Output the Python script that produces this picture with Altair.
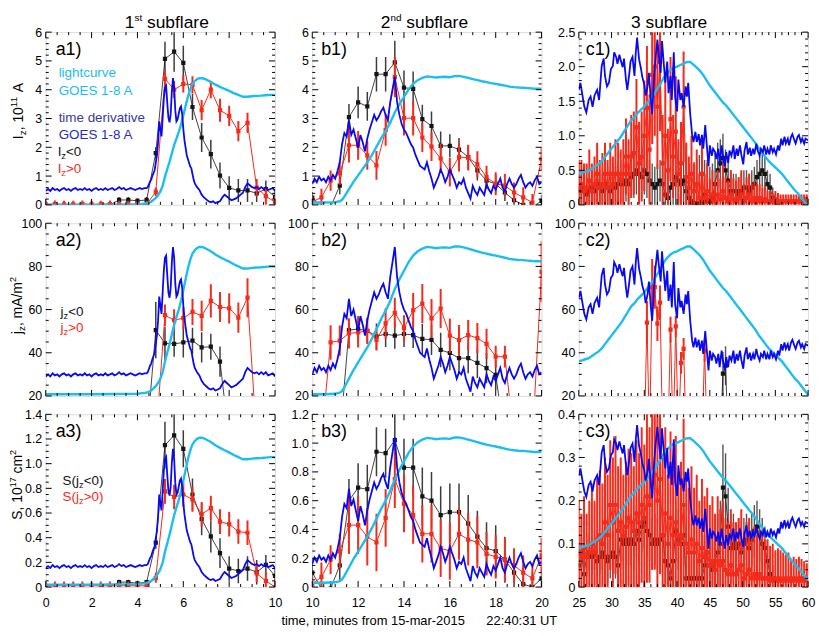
import altair as alt
import pandas as pd

FONT = "Liberation Sans"
CYAN = "#1CBDEF"
BLUE = "#0A0AEE"
RED = "#F42A1A"
BLACK = "#141414"
EBLACK = "#3C3C3C"
NAVY1 = "#3A3A9E"
NAVY2 = "#2A2AC0"
PW, PH = 231, 174
NB = "\u00a0"


def seq(start, step, n):
    return [round(start + i * step, 3) for i in range(n)]


# ---------------- time grids of the measured points ----------------
TA = seq(0.0, 0.4, 26)
TB = seq(10.0, 0.4, 26)
TC = seq(25.0, 0.4, 88)

# ---------------- GOES 1-8 A lightcurve (in j_z-panel units) ----------------
CYAN_A_T = [0, 1, 2, 3, 4, 4.4, 4.6, 4.7, 4.8, 4.9, 5.0, 5.1, 5.2, 5.3, 5.4, 5.5, 5.6, 5.7, 5.8, 5.9,
            6.0, 6.1, 6.2, 6.3, 6.4, 6.5, 6.6, 6.7, 6.8, 6.9, 7.0, 7.2, 7.4, 7.6, 7.8, 8.0, 8.2, 8.4,
            8.6, 8.8, 9.0, 9.2, 9.4, 9.6, 9.8, 10.0]
CYAN_A_V = [20.8, 20.8, 20.8, 20.9, 21.0, 21.5, 22.5, 23.5, 24.5, 26, 28, 31, 36, 40, 44, 48.5, 53,
            56.5, 60, 64, 69, 74, 79, 83, 86, 87.5, 88.5, 89, 89, 88.7, 88.2, 87, 85.5, 84.3, 83.2,
            82.2, 81, 80, 79, 79, 79.3, 79.5, 79.6, 79.8, 80, 80]
CYAN_B_T = [10.0, 10.5, 11.0, 11.2, 11.3, 11.4, 11.5, 11.6, 11.8, 12.0, 12.2, 12.4, 12.6, 12.8, 13.0,
            13.2, 13.4, 13.6, 13.8, 14.0, 14.2, 14.4, 14.6, 14.8, 15.0, 15.2, 15.4, 15.6, 15.8, 16.0,
            16.2, 16.4, 16.6, 16.8, 17.0, 17.2, 17.4, 17.6, 17.8, 18.0, 18.2, 18.4, 18.6, 18.8, 19.0,
            19.2, 19.4, 19.6, 19.8, 20.0]
CYAN_B_V = [20.8, 20.8, 21.0, 21.5, 22.3, 24, 26, 28, 32, 35.5, 39, 42.5, 46.5, 51, 55.5, 59.5, 64,
            69.5, 74, 78, 82, 85, 87, 88.2, 89, 88.8, 88.4, 88.7, 88.8, 88.6, 89.2, 89.3, 88.8, 88.2,
            87.6, 87, 86.4, 85.9, 85.4, 85, 84.5, 84, 83.5, 83.2, 83, 82.9, 82.7, 82.5, 82.4, 82.4]
CYAN_C_T = seq(25.0, 0.5, 71)
CYAN_C_V = [36, 36.5, 37, 37.5, 38.5, 39.5, 40.5, 42, 44, 46,
            48, 50, 52, 54, 56.5, 59, 61.5, 63, 65, 66.5,
            68, 70, 72, 74, 76.5, 79, 82, 84, 85.5, 86.5,
            87, 87.8, 88.5, 89.2, 89.2, 88, 86.5, 85, 83, 80.5,
            78, 76, 74, 72, 70, 68.5, 66.5, 64.5, 62.5, 60.5,
            58.5, 56.5, 54.5, 52.5, 50.5, 48, 46, 44, 42, 40.5,
            39, 37.5, 36, 34, 32, 30, 28, 26.5, 24.5, 22.5,
            20.5]

# ---------------- GOES time derivative (in j_z-panel units) ----------------
BLUE_A_T = seq(0.0, 0.1, 45) + seq(4.45, 0.05, 41) + seq(6.5, 0.1, 36)
BLUE_A_V = [29, 30, 29, 30.5, 29.5, 30, 29, 30, 30.5, 29.5,
            30, 29, 30, 30.5, 29.5, 30, 29.5, 30.5, 29.5, 30,
            29, 30, 30.5, 29.5, 30, 29.5, 30.5, 29.5, 30, 30.5,
            29.5, 30, 31, 30, 30.5, 29.5, 30, 30.5, 30, 29.5,
            30, 30.5, 30, 30.5, 30.5,
            31, 32.5, 34, 35, 37, 38.5, 40, 44, 48, 55,
            66, 62, 58, 68, 78, 84, 85, 76, 68, 65.5,
            70, 82, 89, 84, 72, 66, 67, 70, 73, 74,
            70, 62, 56, 52, 48, 46, 44, 42, 41, 38,
            35,
            33, 31, 29.5, 27, 25.5, 24.5, 23.5, 23, 23.5, 22.5,
            23, 23.5, 25.5, 27, 26, 25, 24, 24.5, 25, 26,
            27, 28, 31, 33, 32, 31, 30.5, 31, 30, 31,
            30, 31, 29.5, 30, 30.5, 29]
BLUE_B_T = seq(10.0, 0.1, 101)
BLUE_B_V = [30, 33, 31, 34, 32, 33, 31, 34, 32, 35,
            33, 37, 42, 52, 58, 56, 65, 57, 60, 55,
            50, 57, 53, 48, 55, 60, 64, 68, 65, 67,
            70, 72, 68, 65, 75, 82, 89, 75, 68, 63,
            60, 58, 55, 52, 50, 46, 43, 40, 39, 38,
            42, 37, 33, 28, 31, 34, 38, 35, 31, 34,
            38, 35, 32, 28, 31, 30, 33, 28, 25, 22,
            29, 26, 24, 28, 26, 24, 30, 27, 25, 29,
            27, 30, 33, 28, 26, 30, 33, 30, 28, 30,
            33, 35, 31, 28, 30, 31, 29, 32, 34, 30,
            31]
BLUE_C_T = [25.0, 25.25, 25.5, 25.85, 26.15, 26.5, 26.8, 27.1, 27.4, 27.8,
            28.1, 28.3, 28.5, 28.8, 29.0, 29.3, 29.6, 29.9, 30.2, 30.4,
            30.7, 30.9, 31.2, 31.4, 31.7, 31.9, 32.2, 32.4, 32.7, 32.9,
            33.2, 33.5, 33.7, 33.9, 34.2, 34.5, 34.7, 35.0, 35.2, 35.5,
            35.7, 36.0, 36.2, 36.5, 36.7, 37.0, 37.2, 37.5, 37.7, 38.0,
            38.2, 38.5, 38.7, 39.0, 39.2, 39.5, 39.7, 40.0, 40.2, 40.5,
            40.7, 41.0, 41.3, 41.5, 41.7, 42.0, 42.3, 42.5, 42.8, 43.0,
            43.3, 43.5, 43.8, 44.0, 44.3, 44.5, 44.8, 45.0, 45.3, 45.5,
            45.8, 46.0, 46.3, 46.5, 46.8, 47.0, 47.3, 47.5, 47.8, 48.0,
            48.3, 48.6, 48.8, 49.1, 49.3, 49.6, 49.8, 50.1, 50.3, 50.6,
            50.8, 51.1, 51.3, 51.6, 51.8, 52.1, 52.3, 52.6, 52.8, 53.1,
            53.3, 53.6, 53.8, 54.1, 54.3, 54.6, 54.8, 55.1, 55.4, 55.6,
            55.9, 56.1, 56.4, 56.6, 56.9, 57.1, 57.4, 57.6, 57.9, 58.1,
            58.4, 58.6, 58.9, 59.1, 59.4, 59.6, 60.0]
BLUE_C_V = [65.5, 68.6, 64, 58, 55.5, 61, 62.5, 58, 63, 65.5,
            61, 68.6, 76, 79.3, 71.6, 67, 68.6, 74.7, 76, 82,
            80, 77, 81, 78.5, 75.5, 79.3, 70, 65.5, 72.4, 78,
            80, 71.6, 82, 88.5, 79, 74.7, 71, 67.8, 63, 67,
            73, 61, 54.8, 71.6, 79, 87.7, 81, 73, 87, 76,
            68.6, 78, 64, 71.6, 61, 82, 62.5, 56, 70, 61,
            64, 58, 67, 62.5, 68.6, 55, 45.6, 42.5, 47, 42.5,
            46, 41, 45.6, 39.5, 50, 42.5, 31.8, 41, 36.4, 39.5,
            38, 35, 39.5, 33.3, 41, 36.4, 31.8, 38, 33.3, 38.7,
            36.4, 41, 35, 39.5, 36.4, 41, 37, 32.6, 38.7, 42.5,
            37, 40, 36.4, 39.5, 37, 41.8, 38.7, 36.4, 39.5, 38,
            41, 37, 39.5, 37, 41, 38, 39.5, 37, 41, 38.7,
            44, 41, 44.8, 41.8, 44, 41, 44.8, 46, 43.3, 41.8,
            44.8, 45.6, 42.5, 44, 41.8, 44, 43.3]

# (reference low, reference high) of the curves and their values in each row
CYAN_REF = {"a": (20.8, 89), "b": (20.8, 89.3), "c": (36, 89.3)}
BLUE_REF = {"a": (30, 89), "b": (32, 89), "c": (30, 88.5)}
CYAN_ROW = {"a": {1: (0.0, 4.4), 3: (0.02, 1.21)},
            "b": {1: (0.08, 4.48), 3: (0.03, 1.04)},
            "c": {1: (0.45, 2.07), 3: (0.09, 0.345)}}
BLUE_ROW = {"a": {1: (0.55, 4.4), 3: (0.17, 1.12)},
            "b": {1: (0.85, 4.45), 3: (0.19, 1.04)},
            "c": {1: (0.5, 2.42), 3: (0.08, 0.375)}}

# ---------------- 1st subflare ----------------
A1_BLK = [None, None, None, None, None, None, None, 0.0, 0.17, 0.17, 0.14, 0.17, 1.8, 5.07, 5.32,
          4.93, 3.4, 2.34, 1.76, 1.02, 0.59, 0.5, 0.5, 0.4, 0.55, 0.28]
A1_BLK_E = [None, None, None, None, None, None, None, 0.05, 0.1, 0.1, 0.1, 0.1, 0.2, 0.6, 0.7,
            0.6, 0.45, 0.5, 0.5, 0.45, 0.4, 0.4, 0.4, 0.3, 0.3, 0.25]
A1_RED = [0.02, 0.03, 0.02, 0.02, 0.03, 0.02, 0.02, 0.03, 0.02, 0.02, 0.03, 0.02, 0.45, 4.38, 4.0,
          4.2, 4.17, 3.29, 4.0, 3.29, 3.09, 2.56, 2.85, 0.6, 0.3, 0.1]
A1_RED_E = [0.12, 0.12, 0.12, 0.12, 0.12, 0.12, 0.12, 0.12, 0.12, 0.12, 0.12, 0.12, 0.15, 0.3, 0.3,
            0.3, 0.3, 0.35, 0.3, 0.4, 0.35, 0.35, 0.35, 0.3, 0.3, 0.2]
A2_BLK = [None, None, None, None, None, None, None, None, None, None, None, 0.0, 50.5, 44.4, 44.1,
          44.8, 45.6, 42.5, 42.8, 35.9, 0.0, None, None, None, None, None]
A2_BLK_E = [None, None, None, None, None, None, None, None, None, None, None, 0, 13, 7.7, 6,
            7, 6, 7, 6, 7, 0, None, None, None, None, None]
A2_RED = [None, None, None, None, None, None, None, None, None, None, None, None, 0.0, 57.4, 55.1,
          56.0, 58.9, 57.1, 64.0, 61.2, 60.6, 56.3, 65.5, 0.0, None, None]
A2_RED_E = [None, None, None, None, None, None, None, None, None, None, None, None, 0, 5, 5,
            5, 6, 7, 7.7, 7, 7, 7, 9, 0, None, None]
A3_BLK = [None, None, None, None, None, None, None, 0.0, 0.04, 0.04, 0.03, 0.04, 0.36, 1.15, 1.23,
          1.12, 0.75, 0.55, 0.41, 0.275, 0.15, 0.13, 0.15, 0.12, 0.18, 0.09]
A3_BLK_E = [None, None, None, None, None, None, None, 0.01, 0.02, 0.02, 0.02, 0.02, 0.05, 0.19, 0.17,
            0.15, 0.13, 0.13, 0.13, 0.12, 0.1, 0.1, 0.1, 0.1, 0.08, 0.06]
A3_RED = [0.01, 0.01, 0.01, 0.01, 0.01, 0.01, 0.01, 0.01, 0.01, 0.01, 0.01, 0.01, 0.075, 0.775, 0.73,
          0.75, 0.71, 0.59, 0.64, 0.53, 0.51, 0.45, 0.44, 0.11, 0.05, 0.0]
A3_RED_E = [0.035, 0.035, 0.035, 0.035, 0.035, 0.035, 0.035, 0.035, 0.035, 0.035, 0.035, 0.035,
            0.04, 0.1, 0.1, 0.1, 0.1, 0.1, 0.1, 0.1, 0.1, 0.1, 0.1, 0.07, 0.07, 0.05]

# ---------------- 2nd subflare ----------------
B1_BLK = [0.25, -0.08, -0.08, 0.67, 3.05, 3.56, 3.42, 4.54, 4.54, 4.95, 4.07, 4.03, 2.98, 2.74, 2.05,
          2.05, 1.92, 1.66, 1.2, 0.84, 0.73, 0.43, 0.16, 0.0, -0.08, 0.14]
B1_BLK_E = [0.2, 0.15, 0.15, 0.3, 0.45, 0.55, 0.5, 0.6, 0.6, 0.75, 0.6, 0.6, 0.5, 0.5, 0.5,
            0.4, 0.4, 0.4, 0.35, 0.3, 0.3, 0.3, 0.25, 0.2, 0.2, 0.2]
B1_RED = [0.1, 0.26, 0.84, 1.1, 2.07, 2.07, 1.72, 1.37, 2.6, 4.44, 3.01, 3.01, 2.34, 2.02, 1.61,
          1.14, 1.66, 1.64, 1.41, 0.96, 0.73, 0.67, 0.43, 0.26, 0.08, 1.6]
B1_RED_E = [0.2, 0.3, 0.35, 0.4, 0.6, 0.5, 0.5, 0.5, 0.55, 0.7, 0.6, 0.6, 0.5, 0.5, 0.5,
            0.5, 0.5, 0.45, 0.45, 0.4, 0.4, 0.4, 0.35, 0.35, 0.3, 0.4]
B2_BLK = [0, 0, 0, 0, 50.5, 51, 50.2, 47.6, 48.7, 47.9, 48.7, 48.2, 46.4, 46, 41.3,
          39.9, 37.5, 37.5, 35.3, 32.9, 29.8, 0, 0, 0, 0, 0]
B2_BLK_E = [0, 0, 0, 0, 5, 6, 6, 6, 6, 6, 6, 6, 7, 7, 8,
            8, 7, 7, 7, 7, 7, 0, 0, 0, 0, 0]
B2_RED = [0, 0, 44.8, 45.6, 49, 49.4, 50.2, 46, 53.6, 58.5, 51.4, 59.7, 62.8, 55.9, 60.5,
          47.9, 45.9, 48.2, 46.8, 44.1, 38.2, 38.2, 0, 0, 0, 77.5]
B2_RED_E = [0, 0, 8, 7, 7, 7, 6, 5, 7, 7, 6, 8, 9, 9, 9,
            8, 7, 7, 7, 7, 5, 5, 0, 0, 0, 14]
B3_BLK = [0.10, -0.01, -0.01, 0.15, 0.60, 0.69, 0.68, 0.94, 0.93, 1.02, 0.83, 0.83, 0.63, 0.60, 0.50,
          0.52, 0.52, 0.44, 0.35, 0.27, 0.25, 0.19, 0.10, 0.02, 0.0, 0.06]
B3_BLK_E = [0.1, 0.05, 0.05, 0.1, 0.15, 0.17, 0.17, 0.17, 0.17, 0.2, 0.2, 0.2, 0.2, 0.2, 0.2,
            0.2, 0.2, 0.2, 0.18, 0.18, 0.18, 0.16, 0.15, 0.12, 0.1, 0.08]
B3_RED = [0.02, 0.07, 0.19, 0.25, 0.43, 0.43, 0.35, 0.31, 0.48, 0.75, 0.58, 0.50, 0.37, 0.37, 0.27,
          0.25, 0.37, 0.33, 0.31, 0.23, 0.21, 0.19, 0.15, 0.10, 0.06, 0.22]
B3_RED_E = [0.05, 0.1, 0.1, 0.12, 0.2, 0.2, 0.2, 0.2, 0.2, 0.2, 0.2, 0.2, 0.2, 0.2, 0.2,
            0.2, 0.18, 0.18, 0.18, 0.15, 0.15, 0.15, 0.12, 0.12, 0.1, 0.12]

# ---------------- 3rd subflare ----------------
C1_BLK = [0.20, 0.25, 0.20, 0.15, 0.20, 0.25, 0.20, 0.30, 0.25, 0.20,
          0.30, 0.25, 0.20, 0.30, 0.25, 0.30, 0.35, 0.30, 0.35, 0.30,
          0.40, 0.45, 0.50, 0.45, 0.40, 0.50, 0.45, 0.35, 0.30, 0.25,
          0.30, 0.35, 0.30, 0.15, 0.10, 0.25, 0.30, 0.40, 0.35, 0.30,
          0.35, 0.20, 0.10, 0.05, 0.02, 0.02, 0.02, 0.05, 0.15, 0.05,
          0.05, 0.10, 0.30, 0.50, 0.60, 0.68, 0.50, 0.35, 0.20, 0.20,
          0.20, 0.15, 0.20, 0.25, 0.25, 0.20, 0.25, 0.30, 0.40, 0.45,
          0.50, 0.45, 0.30, 0.25, 0.10, 0.05, 0.02, None, None, None,
          None, None, None, None, None, None, None, None]
C1_BLK_E = [0.25, 0.25, 0.25, 0.25, 0.25, 0.25, 0.25, 0.25, 0.25, 0.25,
            0.3, 0.3, 0.3, 0.3, 0.3, 0.3, 0.3, 0.3, 0.3, 0.3,
            0.3, 0.35, 0.35, 0.35, 0.3, 0.35, 0.35, 0.3, 0.3, 0.3,
            0.3, 0.3, 0.35, 0.4, 0.45, 0.4, 0.45, 0.5, 0.45, 0.5,
            0.5, 0.45, 0.5, 0.55, 0.6, 0.65, 0.7, 0.6, 0.5, 0.6,
            0.5, 0.5, 0.45, 0.4, 0.35, 0.35, 0.3, 0.3, 0.3, 0.25,
            0.25, 0.25, 0.25, 0.25, 0.25, 0.25, 0.25, 0.25, 0.25, 0.25,
            0.25, 0.25, 0.2, 0.2, 0.15, 0.1, 0.05, None, None, None,
            None, None, None, None, None, None, None, None]
C1_RED = [0.25, 0.30, 0.20, 0.25, 0.35, 0.20, 0.30, 0.45, 0.25, 0.30,
          0.45, 0.25, 0.45, 0.30, 0.45, 0.45, 0.35, 0.45, 0.70, 0.45,
          0.70, 0.75, 1.12, 0.60, 0.70, 1.00, 1.40, 0.80, 1.88, 2.00,
          1.42, 2.07, 0.60, 1.00, 0.50, 1.24, 0.70, 1.06, 0.45, 0.60,
          1.42, 0.40, 0.25, 0.45, 0.20, 0.30, 0.10, 0.45, 0.10, 0.20,
          0.08, 0.15, 0.05, 0.15, 0.08, 0.20, 0.10, 0.05, 0.15, 0.08,
          0.05, 0.10, 0.15, 0.05, 0.10, 0.15, 0.05, 0.10, 0.05, 0.10,
          0.05, 0.08, 0.05, 0.05, 0.05, 0.08, 0.05, 0.05, 0.05, 0.05,
          0.05, 0.05, 0.05, 0.05, 0.05, 0.05, 0.05, 0.05]
C1_RED_E = [0.4, 0.35, 0.4, 0.35, 0.45, 0.4, 0.4, 0.45, 0.4, 0.45,
            0.45, 0.4, 0.45, 0.4, 0.5, 0.45, 0.45, 0.5, 0.55, 0.5,
            0.6, 0.6, 0.7, 0.6, 0.65, 0.8, 0.9, 0.8, 1.0, 1.0,
            0.9, 1.0, 0.7, 0.9, 0.6, 0.9, 0.6, 0.8, 0.5, 0.6,
            0.8, 0.5, 0.45, 0.55, 0.4, 0.5, 0.35, 0.5, 0.35, 0.4,
            0.3, 0.35, 0.3, 0.35, 0.3, 0.4, 0.3, 0.3, 0.35, 0.3,
            0.3, 0.3, 0.35, 0.25, 0.3, 0.3, 0.25, 0.25, 0.25, 0.2,
            0.2, 0.2, 0.15, 0.15, 0.12, 0.12, 0.12, 0.1, 0.1, 0.1,
            0.1, 0.1, 0.1, 0.1, 0.1, 0.1, 0.1, 0.1]
C2_BLK = [0, 0, 0, 0, 0, 0, 0, 0, 0, 0,
          0, 0, 0, 0, 0, 0, 0, 0, 0, 0,
          0, 0, 0, 0, 0, 0, 0, 0, 0, 0,
          0, 0, 0, 0, 0, 0, 0, 0, 0, 0,
          0, 0, 0, 0, 0, 0, 0, 0, 0, 0,
          0, 0, 0, 0, 0, 30.3, 34.0, 0, 0, 0,
          0, 0, 0, 0, 0, 0, 0, 0, 0, 0,
          0, 0, 0, 0, 0, 0, 0, 0, 0, 0,
          0, 0, 0, 0, 0, 0, 0, 0]
C2_BLK_E = [0, 0, 0, 0, 0, 0, 0, 0, 0, 0,
            0, 0, 0, 0, 0, 0, 0, 0, 0, 0,
            0, 0, 0, 0, 0, 0, 0, 0, 0, 0,
            0, 0, 0, 0, 0, 0, 0, 0, 0, 0,
            0, 0, 0, 0, 0, 0, 0, 0, 0, 0,
            0, 0, 0, 0, 0, 10, 9, 0, 0, 0,
            0, 0, 0, 0, 0, 0, 0, 0, 0, 0,
            0, 0, 0, 0, 0, 0, 0, 0, 0, 0,
            0, 0, 0, 0, 0, 0, 0, 0]
C2_RED = [0, 0, 0, 0, 0, 0, 0, 0, 0, 0,
          0, 0, 0, 0, 0, 0, 0, 0, 0, 0,
          0, 0, 0, 0, 0, 0, 54.0, 0, 70.4, 70.4,
          53.5, 63.2, 0, 0, 0, 50.7, 0, 52.2, 0, 35.3,
          41.8, 0, 0, 0, 0, 0, 0, 0, 41.0, 0,
          0, 0, 0, 0, 0, 0, 0, 0, 0, 0,
          0, 0, 0, 0, 0, 0, 0, 0, 0, 0,
          0, 0, 0, 0, 0, 0, 0, 0, 0, 0,
          0, 0, 0, 0, 0, 0, 0, 0]
C2_RED_E = [0, 0, 0, 0, 0, 0, 0, 0, 0, 0,
            0, 0, 0, 0, 0, 0, 0, 0, 0, 0,
            0, 0, 0, 0, 0, 0, 10, 0, 13, 10,
            8, 8, 0, 0, 0, 6, 0, 5, 0, 5,
            5, 0, 0, 0, 0, 0, 0, 0, 5, 0,
            0, 0, 0, 0, 0, 0, 0, 0, 0, 0,
            0, 0, 0, 0, 0, 0, 0, 0, 0, 0,
            0, 0, 0, 0, 0, 0, 0, 0, 0, 0,
            0, 0, 0, 0, 0, 0, 0, 0]
C3_BLK = [0.05, 0.08, 0.03, 0.07, 0.08, 0.07, 0.08, 0.06, 0.07, 0.08,
          0.07, 0.06, 0.07, 0.08, 0.07, 0.05, 0.11, 0.10, 0.11, 0.10,
          0.11, 0.10, 0.13, 0.11, 0.14, 0.15, 0.13, 0.12, 0.10, 0.11,
          0.10, 0.11, 0.12, 0.06, 0.05, 0.02, 0.06, 0.13, 0.11, 0.10,
          0.12, 0.02, 0.02, 0.02, 0.02, 0.02, 0.02, 0.02, 0.05, 0.08,
          0.05, 0.04, 0.06, 0.08, 0.10, 0.23, 0.21, 0.14, 0.09, 0.10,
          0.09, 0.10, 0.08, 0.10, 0.11, 0.09, 0.11, 0.13, 0.14, 0.12,
          0.10, 0.09, 0.06, 0.03, 0.02, None, None, None, None, None,
          None, None, None, None, None, None, None, None]
C3_BLK_E = [0.04, 0.04, 0.04, 0.04, 0.04, 0.04, 0.04, 0.04, 0.04, 0.04,
            0.05, 0.05, 0.05, 0.05, 0.05, 0.05, 0.05, 0.05, 0.05, 0.05,
            0.06, 0.06, 0.06, 0.06, 0.06, 0.06, 0.06, 0.06, 0.06, 0.06,
            0.06, 0.06, 0.06, 0.05, 0.05, 0.05, 0.06, 0.07, 0.07, 0.07,
            0.07, 0.05, 0.05, 0.05, 0.05, 0.05, 0.05, 0.06, 0.07, 0.08,
            0.08, 0.08, 0.08, 0.09, 0.1, 0.1, 0.1, 0.09, 0.08, 0.07,
            0.06, 0.06, 0.06, 0.06, 0.06, 0.06, 0.06, 0.06, 0.06, 0.06,
            0.06, 0.05, 0.05, 0.04, 0.03, None, None, None, None, None,
            None, None, None, None, None, None, None, None]
C3_RED = [0.08, 0.07, 0.09, 0.07, 0.08, 0.10, 0.08, 0.11, 0.12, 0.10,
          0.15, 0.12, 0.19, 0.15, 0.19, 0.13, 0.15, 0.12, 0.14, 0.16,
          0.15, 0.13, 0.17, 0.15, 0.19, 0.16, 0.21, 0.19, 0.24, 0.26,
          0.20, 0.25, 0.12, 0.17, 0.10, 0.16, 0.12, 0.15, 0.10, 0.12,
          0.19, 0.10, 0.08, 0.11, 0.08, 0.10, 0.06, 0.09, 0.07, 0.08,
          0.05, 0.06, 0.04, 0.06, 0.05, 0.06, 0.04, 0.03, 0.05, 0.03,
          0.03, 0.04, 0.05, 0.02, 0.03, 0.04, 0.02, 0.03, 0.02, 0.03,
          0.02, 0.02, 0.02, 0.015, 0.02, 0.015, 0.02, 0.015, 0.02, 0.015,
          0.02, 0.015, 0.02, 0.015, 0.02, 0.015, 0.02, 0.015]
C3_RED_E = [0.12, 0.1, 0.12, 0.1, 0.12, 0.14, 0.12, 0.14, 0.15, 0.14,
            0.15, 0.14, 0.15, 0.15, 0.16, 0.15, 0.15, 0.14, 0.15, 0.16,
            0.16, 0.15, 0.17, 0.16, 0.18, 0.17, 0.2, 0.18, 0.2, 0.22,
            0.2, 0.22, 0.18, 0.2, 0.16, 0.2, 0.17, 0.2, 0.16, 0.17,
            0.2, 0.16, 0.15, 0.17, 0.15, 0.16, 0.14, 0.16, 0.14, 0.15,
            0.14, 0.15, 0.13, 0.15, 0.13, 0.14, 0.12, 0.12, 0.13, 0.12,
            0.12, 0.12, 0.13, 0.11, 0.12, 0.12, 0.1, 0.11, 0.1, 0.1,
            0.1, 0.09, 0.09, 0.08, 0.08, 0.07, 0.07, 0.07, 0.06, 0.06,
            0.06, 0.05, 0.05, 0.05, 0.05, 0.05, 0.04, 0.04]

SERIES = {
    ("a", 1): (TA, A1_BLK, A1_BLK_E, A1_RED, A1_RED_E),
    ("a", 2): (TA, A2_BLK, A2_BLK_E, A2_RED, A2_RED_E),
    ("a", 3): (TA, A3_BLK, A3_BLK_E, A3_RED, A3_RED_E),
    ("b", 1): (TB, B1_BLK, B1_BLK_E, B1_RED, B1_RED_E),
    ("b", 2): (TB, B2_BLK, B2_BLK_E, B2_RED, B2_RED_E),
    ("b", 3): (TB, B3_BLK, B3_BLK_E, B3_RED, B3_RED_E),
    ("c", 1): (TC, C1_BLK, C1_BLK_E, C1_RED, C1_RED_E),
    ("c", 2): (TC, C2_BLK, C2_BLK_E, C2_RED, C2_RED_E),
    ("c", 3): (TC, C3_BLK, C3_BLK_E, C3_RED, C3_RED_E),
}
GOES = {"a": (CYAN_A_T, CYAN_A_V, BLUE_A_T, BLUE_A_V),
        "b": (CYAN_B_T, CYAN_B_V, BLUE_B_T, BLUE_B_V),
        "c": (CYAN_C_T, CYAN_C_V, BLUE_C_T, BLUE_C_V)}

XCFG = {"a": ([0, 10], 2, 0.5), "b": ([10, 20], 2, 0.5), "c": ([25, 60], 5, 1)}
YCFG = {1: {"a": ([0, 6], 1, 0.2, "d"), "b": ([0, 6], 1, 0.2, "d"), "c": ([0, 2.5], 0.5, 0.1, "f")},
        2: {"a": ([20, 100], 20, 5, "d"), "b": ([20, 100], 20, 5, "d"), "c": ([20, 100], 20, 5, "d")},
        3: {"a": ([0, 1.4], 0.2, 0.05, "f"), "b": ([0, 1.2], 0.2, 0.05, "f"), "c": ([0, 0.4], 0.1, 0.02, "f")}}

# ---------------- text helpers ----------------
AW = {" ": 278, NB: 278, "(": 333, ")": 333, ",": 278, "-": 333, ".": 278, "/": 278, ":": 278,
      "<": 584, ">": 584, "A": 667, "E": 667, "G": 778, "I": 278, "O": 778, "S": 667, "T": 611,
      "U": 722, "a": 556, "b": 556, "c": 500, "d": 556, "e": 556, "f": 278, "g": 556, "h": 556,
      "i": 222, "j": 222, "l": 222, "m": 833, "n": 556, "o": 556, "r": 333, "s": 500, "t": 278,
      "u": 556, "v": 500, "z": 500}


def tw(s, fs):
    return sum(AW.get(ch, 556) for ch in s) * fs / 1000.0


def rich(pieces, x, y, color="black", angle=0, anchor="left"):
    total = sum(tw(p[0], p[1]) for p in pieces)
    off = 0.0 if anchor == "left" else -total / 2.0
    out = []
    for p in pieces:
        txt, fs, sh = p[0], p[1], p[2]
        col = p[3] if len(p) > 3 else color
        core = txt.lstrip(" ")
        lead = tw(txt[: len(txt) - len(core)], fs)
        out.append(alt.Chart(pd.DataFrame({"s": [core]})).mark_text(
            align="left", baseline="alphabetic", font=FONT, fontSize=fs, angle=angle,
            dx=round(off + lead, 2), dy=sh, color=col).encode(
            text="s:N", x=alt.value(x), y=alt.value(y)))
        off += tw(txt, fs)
    return out


def sub(base, s, rest, fs=13.5):
    return [(base, fs, 0), (s, fs * 0.7, 3), (rest, fs, 0)]


def ticklist(lo, hi, step):
    n = int(round((hi - lo) / step))
    return [round(lo + i * step, 4) for i in range(n + 1)]


def remap(vals, src, dst):
    s0, s1 = src
    d0, d1 = dst
    return [d0 + (v - s0) * (d1 - d0) / (s1 - s0) for v in vals]


def panel_texts(col, row):
    L = []
    L += rich([(f"{col}{row})", 18, 0)], {"a": 10, "b": 9, "c": 7}[col], 23)
    if row == 1:
        if col == "a":
            L += rich([("1", 17.5, 0), ("st", 10, -7), (" subflare", 17.5, 0)], 122, -4, anchor="center")
            L += rich([("lightcurve", 13.5, 0)], 13, 45.5, color=CYAN)
            L += rich([("GOES 1-8 A", 13.5, 0)], 13, 63.5, color=CYAN)
            L += rich([("time derivative", 13.5, 0)], 13, 91, color=NAVY1)
            L += rich([("GOES 1-8 A", 13.5, 0)], 13, 107.5, color=NAVY2)
            L += rich(sub("I", "z", "<0"), 12, 125, color=BLACK)
            L += rich(sub("I", "z", ">0"), 12, 142, color=RED)
            L += rich([("I", 14, 0), ("z", 10, 3), (", 10", 14, 0), ("11", 10, -6), (" A", 14, 0)],
                      -23, 79.5, angle=270, anchor="center")
        elif col == "b":
            L += rich([("2", 17.5, 0), ("nd", 10, -7), (" subflare", 17.5, 0)], 113, -4, anchor="center")
        else:
            L += rich([("3 subflare", 17.5, 0)], 91, -4, anchor="center")
    if row == 2 and col == "a":
        L += rich(sub("j", "z", "<0"), 15, 93, color=BLACK)
        L += rich(sub("j", "z", ">0"), 15, 110, color=RED)
        L += rich([("j", 14, 0), ("z", 10, 3), (", mA/m", 14, 0), ("2", 9, -6)],
                  -24, 83, angle=270, anchor="center")
    if row == 3 and col == "a":
        L += rich(sub("S(j", "z", "<0)"), 17, 71, color=BLACK)
        L += rich(sub("S(j", "z", ">0)"), 17, 87, color=RED)
        L += rich([("S, 10", 14, 0), ("17", 9, -6), (" cm", 14, 0), ("2", 9, -6)],
                  -24, 71, angle=270, anchor="center")
    if row == 3 and col == "b":
        L += rich([("time, minutes from 15-mar-2015" + NB * 6 + "22:40:31 UT", 13, 0)],
                  108, PH + 38.5, anchor="center")
    return L


def make_panel(col, row):
    xdom, xstep, xmstep = XCFG[col]
    ydom, ystep, ymstep, fmt = YCFG[row][col]
    xmaj = ticklist(xdom[0], xdom[1], xstep)
    xmin = [v for v in ticklist(xdom[0], xdom[1], xmstep) if all(abs(v - m) > 1e-9 for m in xmaj)]
    ymaj = ticklist(ydom[0], ydom[1], ystep)
    ymin = [v for v in ticklist(ydom[0], ydom[1], ymstep) if all(abs(v - m) > 1e-9 for m in ymaj)]

    xs = alt.Scale(domain=xdom, nice=False, zero=False)
    ys = alt.Scale(domain=ydom, nice=False, zero=False)
    if row == 3:
        xaxis = alt.Axis(values=xmaj, title=None, ticks=False, tickSize=0, domain=False, grid=False,
                         labelPadding=10, labelFlush=False, labelOverlap=False, format="d",
                         labelFontSize=12.5, labelFont=FONT, labelColor="black")
    else:
        xaxis = None
    yargs = dict(values=ymaj, title=None, ticks=False, tickSize=0, domain=False, grid=False,
                 labelPadding=4, labelFlush=False, labelOverlap=False, labelFontSize=12.5,
                 labelFont=FONT, labelColor="black")
    if fmt == "d":
        yaxis = alt.Axis(format="d", **yargs)
    else:
        yaxis = alt.Axis(labelExpr="datum.value == 0 ? '0' : format(datum.value, '.1f')", **yargs)

    def X(f):
        return alt.X(f, type="quantitative", scale=xs, axis=xaxis)

    def Y(f):
        return alt.Y(f, type="quantitative", scale=ys, axis=yaxis)

    layers = []
    times, blk, blk_e, red, red_e = SERIES[(col, row)]
    ebw = 1.5 if col != "c" else 1.4
    rbw = 2.0
    for vals, errs, lc, ec, ew, lw in [(blk, blk_e, BLACK, EBLACK if col != "c" else "#555555", ebw, 0.8),
                                       (red, red_e, RED, RED, rbw, 1.0)]:
        rows = [dict(t=t, v=v, lo=v - e, hi=v + e) for t, v, e in zip(times, vals, errs) if v is not None]
        base = alt.Chart(pd.DataFrame(rows))
        layers.append(base.mark_rule(color=ec, strokeWidth=ew, clip=True).encode(
            x=X("t"), y=Y("lo"), y2=alt.Y2("hi")))
        layers.append(base.mark_line(color=lc, strokeWidth=lw, clip=True).encode(x=X("t"), y=Y("v")))
        layers.append(base.mark_square(color=lc, size=18, opacity=1, clip=True).encode(
            x=X("t"), y=Y("v")))

    ct, cv, bt, bv = GOES[col]
    if row == 2:
        cvals, bvals = cv, bv
    else:
        cvals = remap(cv, CYAN_REF[col], CYAN_ROW[col][row])
        bvals = remap(bv, BLUE_REF[col], BLUE_ROW[col][row])
    layers.append(alt.Chart(pd.DataFrame({"t": ct, "v": cvals})).mark_line(
        color=CYAN, strokeWidth=2.4, clip=True).encode(x=X("t"), y=Y("v")))
    layers.append(alt.Chart(pd.DataFrame({"t": bt, "v": bvals})).mark_line(
        color=BLUE, strokeWidth=1.8, clip=True).encode(x=X("t"), y=Y("v")))

    # inward ticks on all four sides
    for vals, L in [(xmaj, 6), (xmin, 3)]:
        c = alt.Chart(pd.DataFrame({"v": vals})).mark_rule(color="black", strokeWidth=1)
        layers.append(c.encode(x=X("v"), y=alt.value(PH), y2=alt.value(PH - L)))
        layers.append(c.encode(x=X("v"), y=alt.value(0), y2=alt.value(L)))
    for vals, L in [(ymaj, 6), (ymin, 3)]:
        c = alt.Chart(pd.DataFrame({"v": vals})).mark_rule(color="black", strokeWidth=1)
        layers.append(c.encode(y=Y("v"), x=alt.value(0), x2=alt.value(L)))
        layers.append(c.encode(y=Y("v"), x=alt.value(PW), x2=alt.value(PW - L)))

    layers += panel_texts(col, row)
    return alt.layer(*layers).properties(width=PW, height=PH)


panels = [make_panel(c, r) for r in (1, 2, 3) for c in ("a", "b", "c")]

chart = alt.concat(*panels, columns=3, spacing={"row": 18.5, "column": 37.5}, bounds="flush").properties(
    padding={"left": 0, "top": 2, "right": 6, "bottom": 4}
).configure_view(stroke="black", strokeWidth=1).configure(font=FONT)

chart.save("out.html", embed_options={"renderer": "svg", "actions": False})
